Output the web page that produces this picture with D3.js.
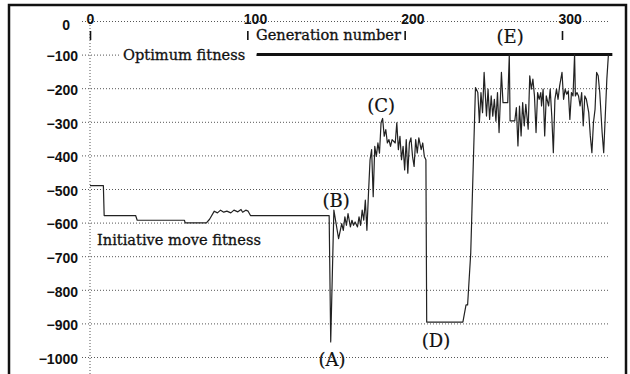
<!DOCTYPE html>
<html>
<head>
<meta charset="utf-8">
<script src="https://cdn.jsdelivr.net/npm/d3@7"></script>
<style>
  body { margin: 0; background: #fff; }
  svg { display: block; font-family: "DejaVu Serif", "Liberation Serif", serif; }
  .grid .tick line { stroke: #555; stroke-dasharray: 1,2; }
  .grid .tick text { font-size: 14px; font-weight: bold; fill: #111; }
  .axis--x .tick line { stroke: #111; stroke-width: 1.6; }
  .axis--x .tick text { font-size: 14px; font-weight: bold; fill: #111; }
  .label { font-size: 14.6px; fill: #111; stroke: #111; stroke-width: 0.3; }
  .mark { font-size: 18px; fill: #111; stroke: #111; stroke-width: 0.2; }
</style>
</head>
<body>
<svg class="fitness" width="630" height="374"></svg>
<script>
var xTicks = [0, 100, 200, 300];
var yTicks = [0, -100, -200, -300, -400, -500, -600, -700, -800, -900, -1000];

// best fitness per generation
var generation = [
  0, 8.5, 9, 29, 30, 60, 60.5, 74, 76, 79, 81, 83, 85, 87, 89.5, 91.5, 94, 96, 97, 99, 100.5, 102,
  152, 153, 155, 158, 160, 161, 162, 163, 164, 165.5, 166.5, 167.5, 168.5, 170, 171, 172, 173, 174,
  175, 176, 177, 178, 179, 180, 181, 182, 183, 184, 185, 186, 187, 188, 189, 190, 191, 192, 194,
  195, 196, 197, 198, 199, 200, 201, 202, 203, 204, 205, 206, 207, 208, 209, 210.5, 211.5, 212.5,
  213.5, 214, 237, 239, 240, 242, 245, 246.5, 247.5, 248.5, 249.5, 250.5, 252, 253, 254, 255,
  256, 257, 258, 259, 260, 261.5, 262.5, 265.5, 266.5, 267, 270, 271, 272, 273, 274, 275, 276,
  277, 278.5, 279.5, 280.5, 281.5, 282.5, 283.5, 284.5, 285.5, 286.5, 287, 288, 289, 290, 291.5,
  292.5, 293.5, 294.5, 295.5, 296.5, 297.5, 298.5, 300, 301, 302, 303, 304, 305, 306, 307, 308,
  308.5, 309.5, 310.5, 311.5, 312.5, 313.5, 314.5, 315.5, 317, 318, 319, 320, 321, 322, 323, 324,
  325.5, 326.5, 327.5, 328.5, 329.5
];
var fitness = [
  -490, -490, -579, -579, -593, -593, -601, -601, -590, -566, -571, -563, -569, -566, -571, -563, -568, -561, -569, -563, -566, -579,
  -579, -955, -563, -648, -603, -623, -583, -608, -573, -613, -593, -608, -598, -613, -583, -608, -563, -593,
  -533, -623, -513, -413, -383, -523, -373, -403, -363, -393, -303, -290, -343, -323, -363, -353, -373, -353, -363,
  -303, -383, -343, -413, -373, -443, -353, -453, -363, -348, -403, -433, -353, -393, -348, -383, -363, -403,
  -413, -896, -896, -845, -845, -690, -198, -213, -302, -213, -273, -153, -283, -203, -293, -223,
  -283, -233, -298, -213, -332, -153, -243, -243, -100, -297, -297, -258, -372, -253, -342, -243, -312,
  -248, -322, -163, -203, -173, -223, -332, -213, -233, -213, -253, -203, -342, -223, -253,
  -203, -283, -392, -233, -203, -233, -193, -153, -233, -203, -218, -208, -293, -213, -223, -100,
  -223, -213, -223, -253, -213, -312, -223, -233, -273, -342, -392, -302, -263, -153, -163, -213,
  -332, -392, -283, -173, -100
];

var optimumValue = -100;
var optimumFrom = 106, optimumTo = 332;

var markNames = ["(A)", "(B)", "(C)", "(D)", "(E)"];
var markGens = [153.8, 156.4, 185, 219.9, 267];
var markValues = [-1027, -554, -271, -970, -65];

var svg = d3.select("svg.fitness");

var x = d3.scaleLinear()
    .domain([0, 300])
    .range([90, 562]);

var y = d3.scaleLinear()
    .domain([-1000, 0])
    .range([357, 21]);

svg.append("rect")
    .attr("x", 9).attr("y", 5)
    .attr("width", 617).attr("height", 380)
    .attr("fill", "none")
    .attr("stroke", "#111")
    .attr("stroke-width", 2.5);

// dotted horizontal grid + fitness labels
svg.append("g")
    .attr("class", "grid")
    .attr("transform", "translate(82,0)")
    .call(d3.axisLeft(y).tickValues(yTicks).tickSize(-528).tickPadding(4).tickFormat(d3.format("d")))
    .call(function (g) { g.select(".domain").remove(); })
    .selectAll(".tick text")
    .attr("dy", function (d) { return d === 0 ? "0.6em" : "0.45em"; })
    .attr("x", function (d) { return d === 0 ? -12 : -4; });

svg.append("line")
    .attr("x1", x(0)).attr("x2", x(0))
    .attr("y1", 19).attr("y2", 374)
    .attr("stroke", "#555")
    .attr("stroke-dasharray", "1,2");

svg.append("g")
    .attr("class", "axis axis--x")
    .attr("transform", "translate(0,40)")
    .call(d3.axisTop(x).tickValues(xTicks).tickSize(9).tickPadding(7).tickFormat(d3.format("d")))
    .call(function (g) { g.select(".domain").remove(); })
    .selectAll(".tick text")
    .attr("text-anchor", "start")
    .attr("x", -4);

svg.append("text")
    .attr("class", "label")
    .attr("x", 256)
    .attr("y", 40)
    .text("Generation number");

// optimum fitness level
svg.append("rect")
    .attr("x", 120).attr("y", 50)
    .attr("width", 136).attr("height", 14)
    .attr("fill", "#fff");

svg.append("text")
    .attr("class", "label")
    .attr("x", 123)
    .attr("y", 60)
    .text("Optimum fitness");

svg.append("line")
    .attr("x1", x(optimumFrom)).attr("x2", x(optimumTo))
    .attr("y1", y(optimumValue)).attr("y2", y(optimumValue))
    .attr("stroke", "#111")
    .attr("stroke-width", 3);

var line = d3.line()
    .x(function (d, i) { return x(generation[i]); })
    .y(function (d) { return y(d); });

svg.append("path")
    .datum(fitness)
    .attr("fill", "none")
    .attr("stroke", "#222")
    .attr("stroke-width", 1.2)
    .attr("stroke-linejoin", "round")
    .attr("d", line);

svg.append("text")
    .attr("class", "label")
    .attr("x", 97)
    .attr("y", 245)
    .text("Initiative move fitness");

svg.selectAll(".mark")
    .data(markNames)
    .enter().append("text")
    .attr("class", "mark")
    .attr("text-anchor", "middle")
    .attr("x", function (d, i) { return x(markGens[i]); })
    .attr("y", function (d, i) { return y(markValues[i]); })
    .text(function (d) { return d; });
</script>
</body>
</html>
